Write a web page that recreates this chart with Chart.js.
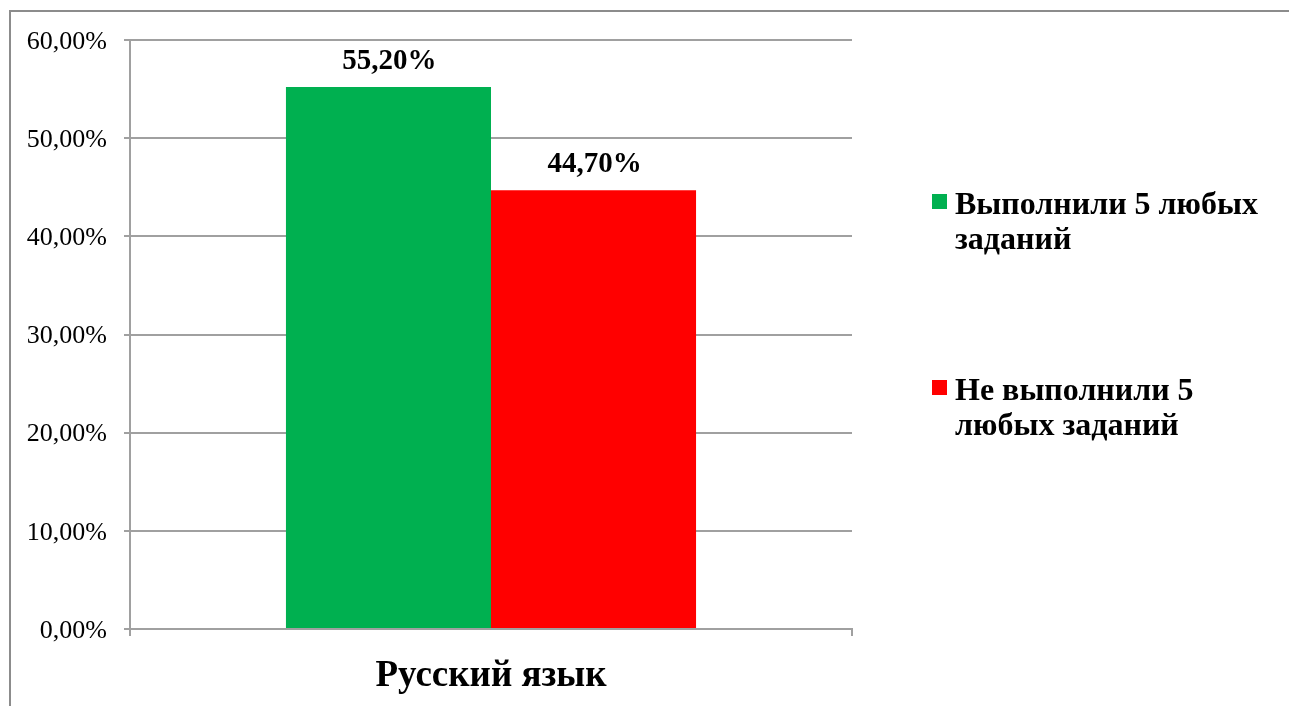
<!DOCTYPE html>
<html>
<head>
<meta charset="utf-8">
<script src="https://cdn.jsdelivr.net/npm/chart.js@4"></script>
<style>
  html, body { margin: 0; padding: 0; background: #ffffff; }
  #wrap { width: 1289px; height: 706px; position: relative; }
</style>
</head>
<body>
<div id="wrap"><canvas id="registrationChart"></canvas></div>
<script>
// данные диаграммы
const categories = ['Русский язык'];
const seriesNames = ['Выполнили 5 любых заданий', 'Не выполнили 5 любых заданий'];
const doneValues = [55.2];
const notDoneValues = [44.7];
const seriesColors = ['#00b050', '#ff0000'];
const yTicks = [0, 10, 20, 30, 40, 50, 60];

const serif = '"Liberation Serif", "Times New Roman", serif';
const gridColor = '#a0a0a0';

function fmt(v) {
    return v.toFixed(2).replace('.', ',') + '%';
}

// рамка вокруг области диаграммы
const framePlugin = {
    id: 'frame',
    beforeDraw(chart) {
        const ctx = chart.ctx;
        ctx.save();
        ctx.strokeStyle = '#8c8c8c';
        ctx.lineWidth = 2;
        ctx.beginPath();
        ctx.moveTo(10, chart.height);
        ctx.lineTo(10, 11);
        ctx.lineTo(chart.width, 11);
        ctx.stroke();
        ctx.restore();
    }
};

// подписи значений над столбцами
const valueLabels = {
    id: 'valueLabels',
    afterDatasetsDraw(chart) {
        const ctx = chart.ctx;
        ctx.save();
        ctx.font = 'bold 29px ' + serif;
        ctx.fillStyle = '#000000';
        ctx.textAlign = 'center';
        ctx.textBaseline = 'alphabetic';
        chart.data.datasets.forEach((ds, i) => {
            chart.getDatasetMeta(i).data.forEach((bar, j) => {
                ctx.fillText(fmt(ds.data[j]), bar.x + 1, bar.y - 18);
            });
        });
        ctx.restore();
    }
};

// легенда справа с переносом строк
const sideLegend = {
    id: 'sideLegend',
    afterDraw(chart) {
        const ctx = chart.ctx;
        const x0 = 932, textX = 955, maxW = 320, lineH = 35;
        const starts = [214, 400];
        ctx.save();
        ctx.font = 'bold 32px ' + serif;
        ctx.textBaseline = 'alphabetic';
        ctx.textAlign = 'left';
        chart.data.datasets.forEach((ds, i) => {
            const words = ds.label.split(' ');
            const lines = [];
            let cur = '';
            words.forEach(w => {
                const test = cur ? cur + ' ' + w : w;
                if (ctx.measureText(test).width > maxW && cur) {
                    lines.push(cur);
                    cur = w;
                } else {
                    cur = test;
                }
            });
            if (cur) lines.push(cur);
            const y = starts[i];
            ctx.fillStyle = ds.backgroundColor;
            ctx.fillRect(x0, y - 20, 15, 15);
            ctx.fillStyle = '#000000';
            lines.forEach((ln, k) => ctx.fillText(ln, textX, y + k * lineH));
        });
        ctx.restore();
    }
};

const ctx = document.getElementById('registrationChart').getContext('2d');
new Chart(ctx, {
    type: 'bar',
    data: {
        labels: categories,
        datasets: [
            {
                label: seriesNames[0],
                data: doneValues,
                backgroundColor: seriesColors[0],
                borderWidth: 0
            },
            {
                label: seriesNames[1],
                data: notDoneValues,
                backgroundColor: seriesColors[1],
                borderWidth: 0
            }
        ]
    },
    options: {
        responsive: true,
        maintainAspectRatio: false,
        animation: false,
        layout: {
            padding: { left: 0, top: 40, right: 437, bottom: 0 }
        },
        datasets: {
            bar: {
                barPercentage: 1.0,
                categoryPercentage: 0.568
            }
        },
        scales: {
            x: {
                grid: {
                    drawOnChartArea: false,
                    drawTicks: true,
                    tickLength: 7,
                    color: gridColor,
                    lineWidth: 2
                },
                border: { display: true, color: gridColor, width: 2 },
                ticks: {
                    color: '#000000',
                    font: { family: serif, size: 37, weight: 'bold' },
                    padding: 18
                },
                afterFit(scale) { scale.height = 77; }
            },
            y: {
                min: 0,
                max: 60,
                afterBuildTicks(scale) {
                    scale.ticks = yTicks.map(v => ({ value: v }));
                },
                grid: {
                    color: gridColor,
                    lineWidth: 2,
                    tickLength: 6
                },
                border: { display: true, color: gridColor, width: 2 },
                ticks: {
                    color: '#000000',
                    font: { family: serif, size: 26 },
                    padding: 17,
                    labelOffset: 2,
                    callback: v => fmt(v)
                },
                afterFit(scale) { scale.width = 130; }
            }
        },
        plugins: {
            legend: { display: false },
            tooltip: { enabled: false }
        }
    },
    plugins: [framePlugin, valueLabels, sideLegend]
});
</script>
</body>
</html>
